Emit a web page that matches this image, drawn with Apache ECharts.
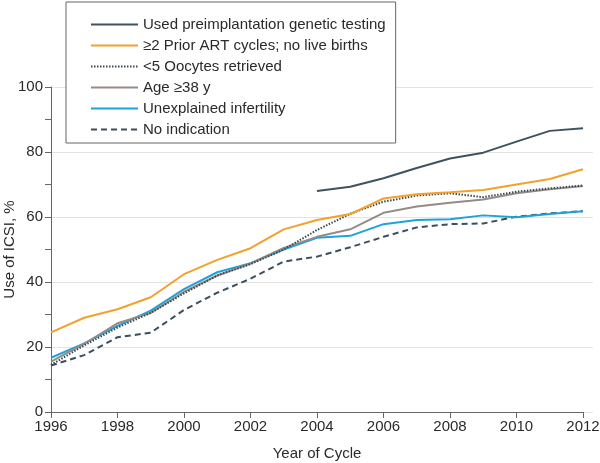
<!DOCTYPE html>
<html>
<head>
<meta charset="utf-8">
<script src="https://cdn.jsdelivr.net/npm/echarts@6/dist/echarts.min.js"></script>
<style>html,body{margin:0;padding:0;background:#fff;}#c{width:600px;height:463px;}</style>
</head>
<body>
<div id="c"></div>
<script>
const years = [1996,1997,1998,1999,2000,2001,2002,2003,2004,2005,2006,2007,2008,2009,2010,2011,2012];
const seriesNames = ['Used preimplantation genetic testing','≥2 Prior ART cycles; no live births','<5 Oocytes retrieved','Age ≥38 y','Unexplained infertility','No indication'];
const pgt        = [null,null,null,null,null,null,null,null,68.0,69.3,71.9,75.1,78.0,79.8,83.2,86.5,87.3];
const priorArt   = [24.5,29.0,31.6,35.3,42.4,46.8,50.4,56.2,59.1,60.9,65.7,67.0,67.6,68.3,70.0,71.7,74.7];
const oocytes    = [14.5,20.5,26.0,30.5,36.5,42.0,45.5,50.0,56.0,61.0,64.7,66.6,67.3,66.1,67.8,68.8,69.7];
const age38      = [15.5,21.0,27.3,30.5,37.0,42.0,45.7,50.5,53.9,56.2,61.3,63.2,64.4,65.4,67.3,68.5,69.5];
const unexplained= [16.7,21.1,26.5,31.2,37.8,43.0,45.8,50.0,53.6,54.2,57.8,59.1,59.3,60.5,59.9,60.9,61.8];
const noIndication=[14.3,17.5,23.0,24.4,31.4,36.7,41.0,46.3,47.8,50.7,53.9,56.8,57.8,58.0,60.1,61.1,61.8];
const yTicks = [0,20,40,60,80,100];
const xTicks = [1996,1998,2000,2002,2004,2006,2008,2010,2012];

const FONT = "'Liberation Sans', Arial, sans-serif";
const TEXT = '#2a2a2a';
const styles = [
  {color:'#3e5260', type:'solid'},
  {color:'#f2a12b', type:'solid'},
  {color:'#3a4750', type:[1.5,1.5]},
  {color:'#958c87', type:'solid'},
  {color:'#1ea2da', type:'solid'},
  {color:'#3c4f5c', type:[6,4]}
];
const allData = [pgt, priorArt, oocytes, age38, unexplained, noIndication];

const pairs = arr => years.map((y,i)=>[y, arr[i]]);

const series = allData.map((arr, k) => ({
  name: seriesNames[k],
  type: 'line',
  xAxisIndex: 1, yAxisIndex: 1,
  data: pairs(arr),
  showSymbol: false,
  symbol: 'none',
  connectNulls: false,
  z: 10 - k,
  lineStyle: {color: styles[k].color, width: 2, type: styles[k].type},
  itemStyle: {color: styles[k].color},
  emphasis: {disabled: true}
}));

const chart = echarts.init(document.getElementById('c'), null, {renderer:'canvas'});
chart.setOption({
  animation: false,
  backgroundColor: '#fff',
  textStyle: {fontFamily: FONT},
  grid: [
    {left: 51, right: 7, top: 87, bottom: 51, outerBoundsMode: 'none', containLabel: false},
    {left: 51, right: 17, top: 87, bottom: 51, outerBoundsMode: 'none', containLabel: false}
  ],
  legend: {
    orient: 'vertical',
    left: 66, top: 2,
    padding: [15, 10, 6, 24],
    itemWidth: 47, itemHeight: 14, itemGap: 6,
    borderColor: '#666', borderWidth: 1,
    backgroundColor: '#fff',
    itemStyle: {opacity: 0},
    textStyle: {fontFamily: FONT, fontSize: 15, color: TEXT},
    data: seriesNames,
    z: 20
  },
  xAxis: [
    {gridIndex: 0, type: 'value', min: 1996, max: 2012, show: false},
    {gridIndex: 1, type: 'value', min: 1996, max: 2012, interval: 2,
     name: 'Year of Cycle', nameLocation: 'middle', nameGap: 34, nameMoveOverlap: false,
     nameTextStyle: {fontFamily: FONT, fontSize: 15, color: TEXT},
     axisLine: {lineStyle: {color: '#666', width: 1}},
     axisTick: {show: true, length: 6, lineStyle: {color: '#666'}},
     axisLabel: {fontFamily: FONT, fontSize: 15, color: TEXT, margin: 7, hideOverlap: false,
       showMinLabel: true, showMaxLabel: true,
       formatter: v => xTicks.includes(v) ? String(v) : ''},
     splitLine: {show: false}}
  ],
  yAxis: [
    {gridIndex: 0, type: 'value', min: 0, max: 100, interval: 20,
     axisLine: {show: false}, axisTick: {show: false}, axisLabel: {show: false},
     splitLine: {show: true, lineStyle: {color: '#e3e3e3', width: 1}}},
    {gridIndex: 1, type: 'value', min: 0, max: 100, interval: 20,
     name: 'Use of ICSI, %', nameLocation: 'middle', nameGap: 34, nameRotate: 90, nameMoveOverlap: false,
     nameTextStyle: {fontFamily: FONT, fontSize: 15, color: TEXT},
     axisLine: {show: true, lineStyle: {color: '#666', width: 1}},
     axisTick: {show: true, length: 6, lineStyle: {color: '#666'}},
     minorTick: {show: true, splitNumber: 2, length: 6, lineStyle: {color: '#666'}},
     axisLabel: {fontFamily: FONT, fontSize: 15, color: TEXT, margin: 8,
       formatter: v => yTicks.includes(v) ? String(v) : ''},
     splitLine: {show: false}}
  ],
  series: series
});
</script>
</body>
</html>
